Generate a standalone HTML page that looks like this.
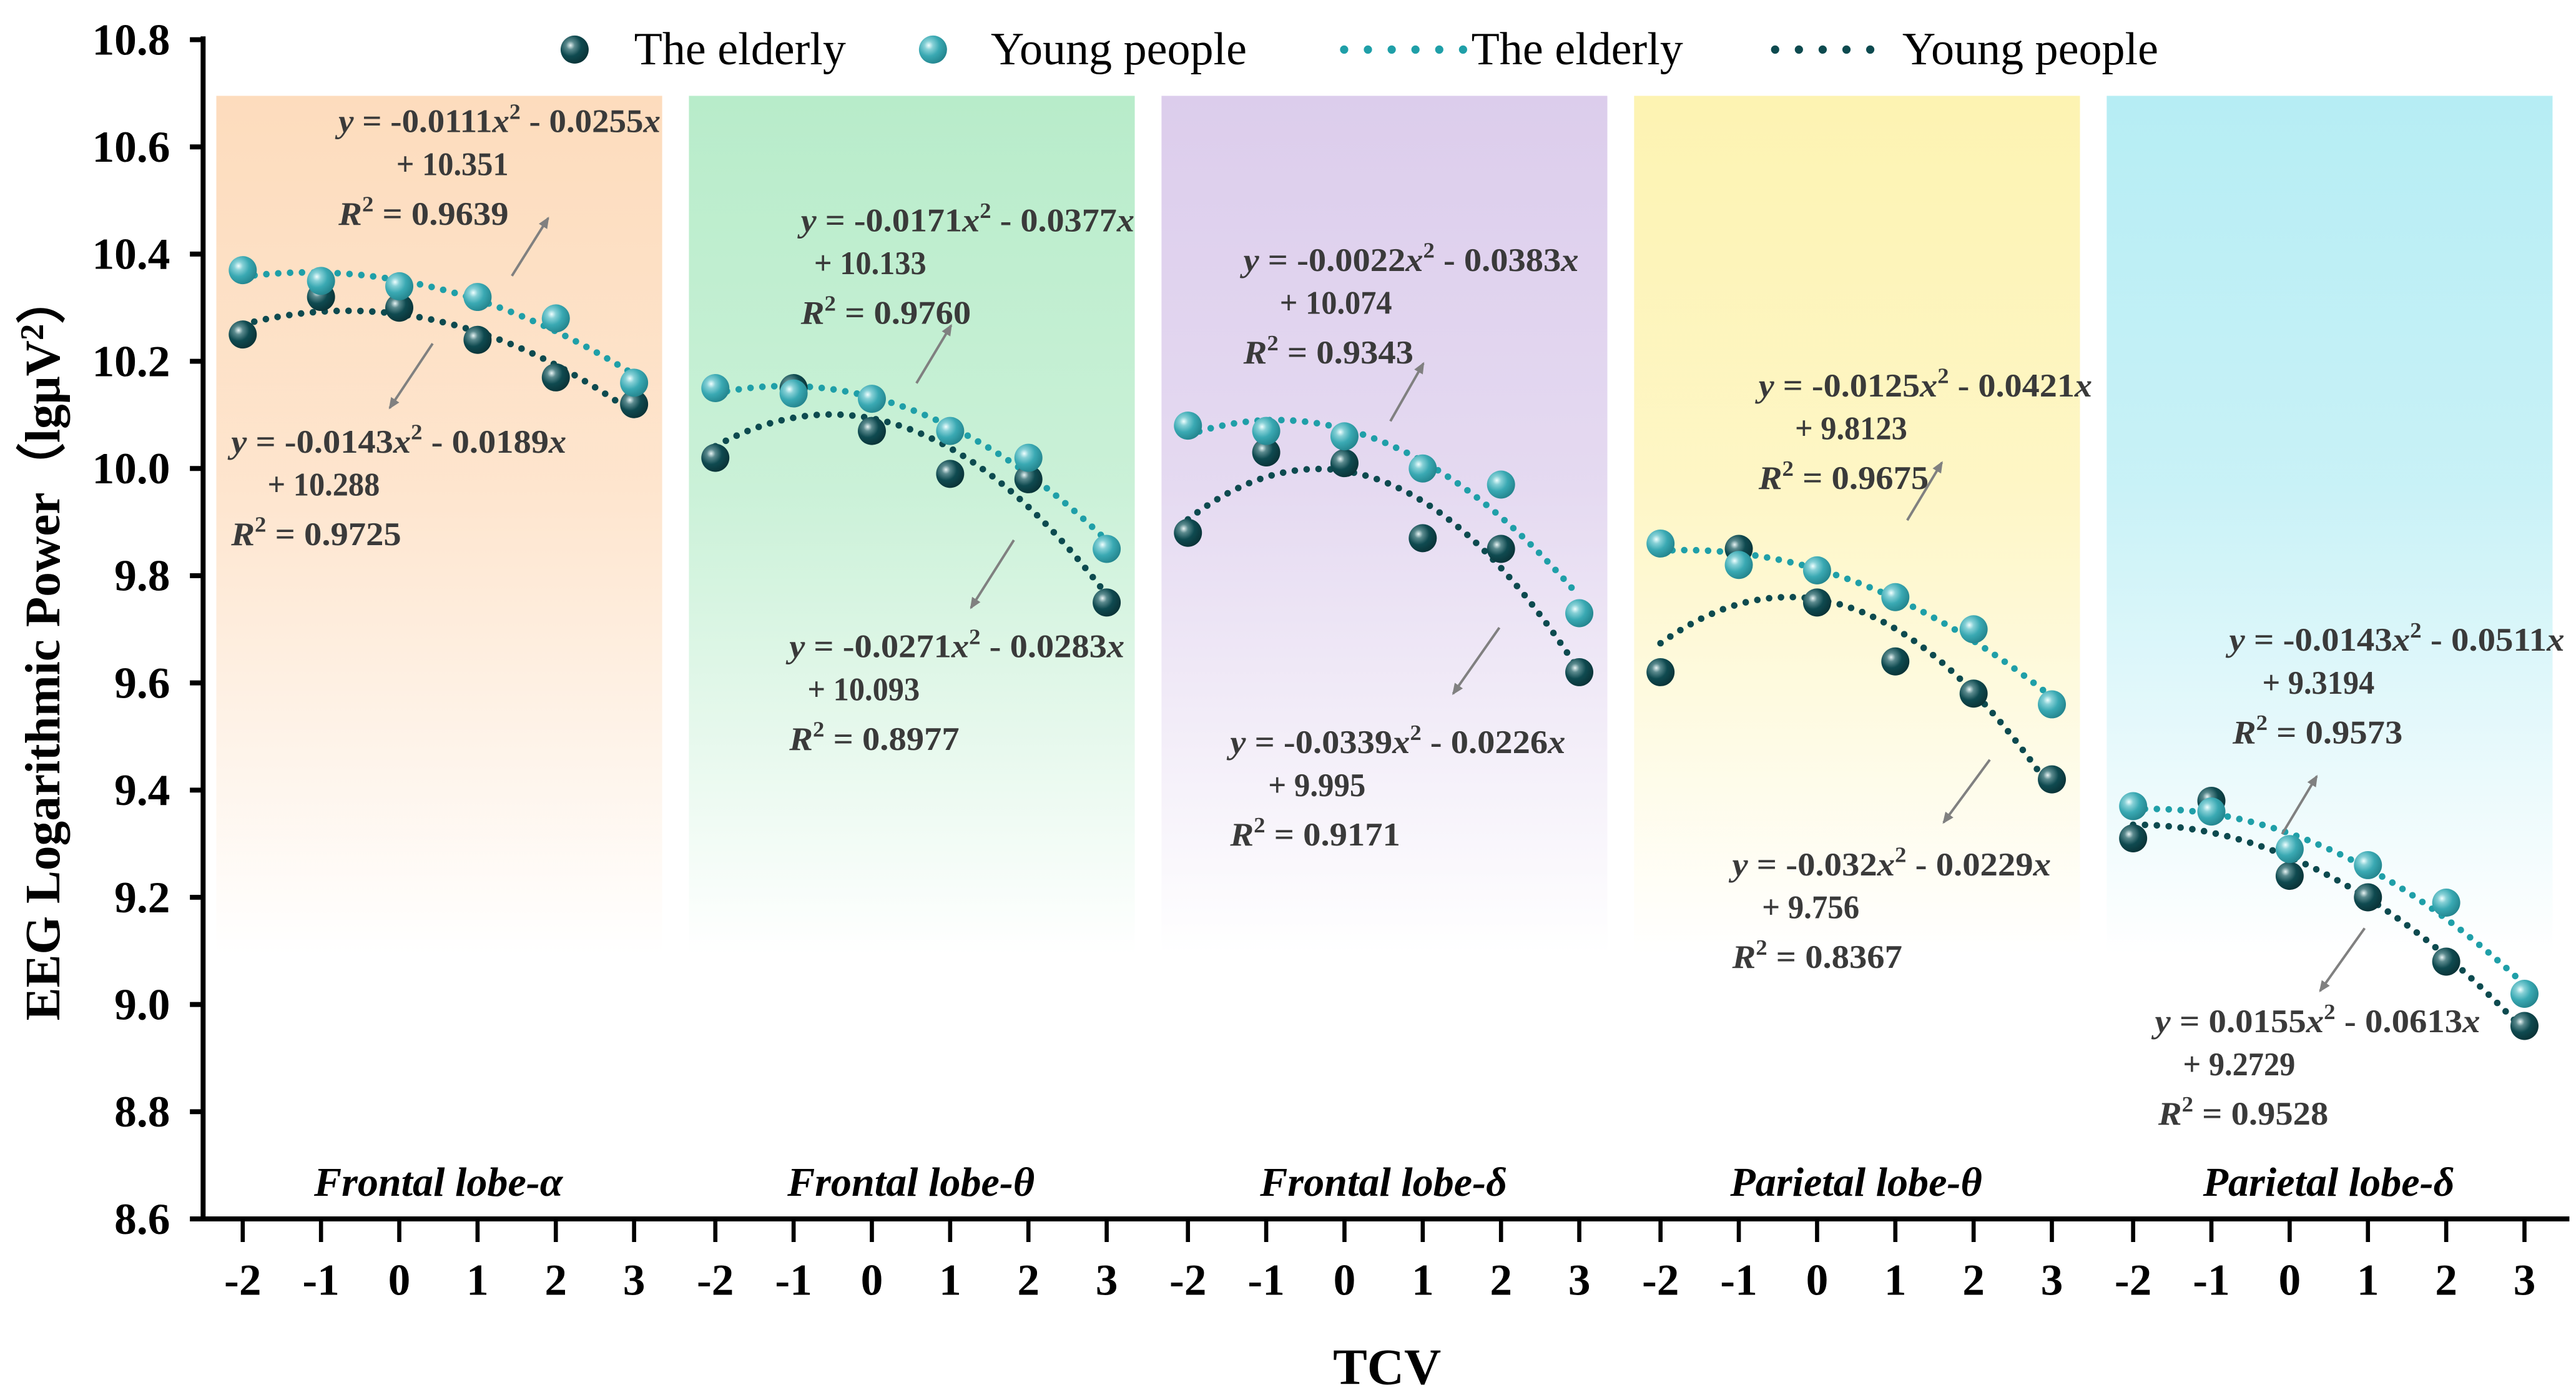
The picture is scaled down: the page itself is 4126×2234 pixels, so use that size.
<!DOCTYPE html>
<html><head><meta charset="utf-8"><style>
html,body{margin:0;padding:0;background:#fff;}
svg{display:block;}
svg text, svg tspan{font-family:"Liberation Serif","Times New Roman",Times,serif;}
</style></head><body>
<svg id="chart" xmlns="http://www.w3.org/2000/svg" width="4126" height="2234" viewBox="0 0 1560 844.6" font-family="'Liberation Serif', 'Times New Roman', serif">
<defs>
<radialGradient id="ballDark" cx="0.35" cy="0.35" r="0.7"><stop offset="0" stop-color="#e8f4f4"/><stop offset="0.22" stop-color="#5b8a8e"/><stop offset="0.55" stop-color="#0f4a50"/><stop offset="1" stop-color="#0a3236"/></radialGradient>
<radialGradient id="ballLight" cx="0.35" cy="0.35" r="0.7"><stop offset="0" stop-color="#f0ffff"/><stop offset="0.22" stop-color="#86d0d6"/><stop offset="0.55" stop-color="#3aa9b3"/><stop offset="1" stop-color="#23848d"/></radialGradient>
<marker id="arr" markerWidth="8" markerHeight="8" refX="6" refY="3" orient="auto" markerUnits="userSpaceOnUse"><path d="M0,0 L7,3 L0,6 z" fill="#808080"/></marker>
</defs>
<g id="bgs"></g>
<g id="axes"></g>
<g id="marks"></g>
<g id="annot"></g>
</svg>
<script>
const NS="http://www.w3.org/2000/svg";
const FF="'Liberation Serif', 'Times New Roman', serif";
const panelNames=["Frontal lobe-α","Frontal lobe-θ","Frontal lobe-δ","Parietal lobe-θ","Parietal lobe-δ"];
const tcv=[-2,-1,0,1,2,3];
const elderly=[
 [10.25,10.32,10.30,10.24,10.17,10.12],
 [10.02,10.15,10.07,9.99,9.98,9.75],
 [9.88,10.03,10.01,9.87,9.85,9.62],
 [9.62,9.85,9.75,9.64,9.58,9.42],
 [9.31,9.38,9.24,9.20,9.08,8.96]];
const young=[
 [10.37,10.35,10.34,10.32,10.28,10.16],
 [10.15,10.14,10.13,10.07,10.02,9.85],
 [10.08,10.07,10.06,10.00,9.97,9.73],
 [9.86,9.82,9.81,9.76,9.70,9.56],
 [9.37,9.36,9.29,9.26,9.19,9.02]];
const yTicks=[8.6,8.8,9.0,9.2,9.4,9.6,9.8,10.0,10.2,10.4,10.6,10.8];
const bgColors=["#fddcbd","#b8ecca","#dccdec","#fdf3b2","#b6edf4"];

const svg=document.getElementById('chart');
const Y0=738,Y1=24,YMIN=8.6,YMAX=10.8;
function yS(v){return Y0+(v-YMIN)/(YMAX-YMIN)*(Y1-Y0);}
const PX0=147,PSTEP=286.2,XSTEP=47.4;
function xS(p,t){return PX0+p*PSTEP+(t+2)*XSTEP;}
function el(tag,attrs,parent,txt){const e=document.createElementNS(NS,tag);for(const k in attrs)e.setAttribute(k,attrs[k]);if(tag==='text')e.setAttribute('font-family',FF);if(txt!==undefined)e.textContent=txt;(parent||svg).appendChild(e);return e;}
const gB=document.getElementById('bgs'),gA=document.getElementById('axes'),gM=document.getElementById('marks'),gN=document.getElementById('annot');
const defs=svg.querySelector('defs');

bgColors.forEach((c,i)=>{
 const lg=el('linearGradient',{id:'bg'+i,x1:0,y1:0,x2:0,y2:1},defs);
 el('stop',{offset:0,'stop-color':c},lg);
 el('stop',{offset:0.45,'stop-color':c,'stop-opacity':0.75},lg);
 el('stop',{offset:1,'stop-color':c,'stop-opacity':0},lg);
 const r=el('rect',{x:xS(i,-2)-16,y:58,width:270,height:520,fill:'url(#bg'+i+')'},gB);
 
 
});

const ya=el('line',{x1:123,y1:Y1-2,x2:123,y2:Y0+1.5,stroke:'#000','stroke-width':3},gA);

const xa=el('line',{x1:121.5,y1:Y0,x2:1556,y2:Y0,stroke:'#000','stroke-width':3},gA);

yTicks.forEach(v=>{
 el('line',{x1:115,y1:yS(v),x2:123,y2:yS(v),stroke:'#000','stroke-width':3},gA);
 const t=el('text',{x:103,y:yS(v)+9,'text-anchor':'end','font-size':27,'font-weight':'bold'},gA,v.toFixed(1));
 
});
for(let p=0;p<5;p++){
 tcv.forEach(tv=>{
  el('line',{x1:xS(p,tv),y1:Y0,x2:xS(p,tv),y2:Y0+14,stroke:'#000','stroke-width':2.5},gA);
  const t=el('text',{x:xS(p,tv),y:784,'text-anchor':'middle','font-size':27,'font-weight':'bold'},gA,String(tv));
  
 });
 const pl=el('text',{x:xS(p,0.5),y:724,'text-anchor':'middle','font-size':25,'font-weight':'bold','font-style':'italic'},gA,panelNames[p]);
 
}
const xt=el('text',{x:840,y:838,'text-anchor':'middle','font-size':31,'font-weight':'bold'},gA,'TCV');

const yt=el('text',{x:0,y:0,'text-anchor':'middle','font-size':30,'font-weight':'bold',transform:'translate(36,392) rotate(-90)'},gA);

yt.innerHTML='EEG Logarithmic Power（lgμV<tspan dy="-10" font-size="20">2</tspan><tspan dy="10">）</tspan>';

function fit(xs,ys){
 let S=[0,0,0,0,0],T=[0,0,0];
 xs.forEach((x,i)=>{let p=1;for(let k=0;k<5;k++){S[k]+=p;if(k<3)T[k]+=p*ys[i];p*=x;}});
 const A=[[S[0],S[1],S[2],T[0]],[S[1],S[2],S[3],T[1]],[S[2],S[3],S[4],T[2]]];
 for(let i=0;i<3;i++){for(let j=i+1;j<3;j++){const f=A[j][i]/A[i][i];for(let k=i;k<4;k++)A[j][k]-=f*A[i][k];}}
 const c=[0,0,0];for(let i=2;i>=0;i--){let s=A[i][3];for(let k=i+1;k<3;k++)s-=A[i][k]*c[k];c[i]=s/A[i][i];}
 return c;
}
function trend(p,data,color,name){
 const c=fit(tcv,data);let d='';
 for(let i=0;i<=50;i++){const t=-2+5*i/50;const v=c[0]+c[1]*t+c[2]*t*t;d+=(i?'L':'M')+xS(p,t).toFixed(2)+','+yS(v).toFixed(2);}
 const pa=el('path',{d:d,fill:'none',stroke:color,'stroke-width':4,'stroke-linecap':'round','stroke-dasharray':'0 7.2'},gM);
 
}
function balls(p,data,grad,name){
 data.forEach((v,i)=>{
  const b=el('circle',{cx:xS(p,tcv[i]),cy:yS(v),r:8.5,fill:'url(#'+grad+')'},gM);
  
 });
}
for(let p=0;p<5;p++){
 trend(p,elderly[p],'#0d4a4f','trendline-elderly');
 trend(p,young[p],'#1f9fa8','trendline-young');
}
for(let p=0;p<5;p++){
 balls(p,elderly[p],'ballDark','point-elderly');
 balls(p,young[p],'ballLight','point-young');
}

const notes=[
 [205,80,'-0.0111','0.0255',240,'10.351',205,'0.9639',[310,167,332,132],195],
 [140,274,'-0.0143','0.0189',162,'10.288',140,'0.9725',[262,208,236,247],203],
 [485,140,'-0.0171','0.0377',493,'10.133',485,'0.9760',[555,232,576,197],202],
 [478,398,'-0.0271','0.0283',489,'10.093',478,'0.8977',[614,327,588,368],203],
 [753,164,'-0.0022','0.0383',775,'10.074',753,'0.9343',[842,255,862,220],203],
 [745,456,'-0.0339','0.0226',768,'9.995',745,'0.9171',[908,380,880,420],203],
 [1065,240,'-0.0125','0.0421',1087,'9.8123',1065,'0.9675',[1155,315,1176,280],202],
 [1049,530,'-0.032','0.0229',1067,'9.756',1049,'0.8367',[1205,460,1177,498],193],
 [1350,394,'-0.0143','0.0511',1370,'9.3194',1352,'0.9573',[1382,505,1403,470],203],
 [1305,625,'0.0155','0.0613',1322,'9.2729',1307,'0.9528',[1432,562,1405,600],197]
];
notes.forEach(n=>{
 const g=el('g',{'font-size':20,'font-weight':'bold',fill:'#3a3a3a'},gN);
 
 const t1=el('text',{x:n[0],y:n[1],textLength:n[9],lengthAdjust:'spacingAndGlyphs'},g);
 t1.innerHTML='<tspan font-style="italic">y</tspan> = '+n[2]+'<tspan font-style="italic">x</tspan><tspan dy="-8" font-size="13">2</tspan><tspan dy="8"> - '+n[3]+'</tspan><tspan font-style="italic">x</tspan>';
 el('text',{x:n[4],y:n[1]+26,textLength:(n[5].length*9+14),lengthAdjust:'spacingAndGlyphs'},g,'+ '+n[5]);
 const t3=el('text',{x:n[6],y:n[1]+56,textLength:103,lengthAdjust:'spacingAndGlyphs'},g);
 t3.innerHTML='<tspan font-style="italic">R</tspan><tspan dy="-8" font-size="13">2</tspan><tspan dy="8"> = '+n[7]+'</tspan>';
 const a=n[8];
 const ar=el('line',{x1:a[0],y1:a[1],x2:a[2],y2:a[3],stroke:'#808080','stroke-width':1.5,'marker-end':'url(#arr)'},gN);
 
});

const lg=el('g',{},gN);

const l1=el('circle',{cx:348,cy:30,r:8.5,fill:'url(#ballDark)'},lg);

const lt1=el('text',{x:384,y:39,'font-size':28},lg,'The elderly');

const l2=el('circle',{cx:565,cy:30,r:8.5,fill:'url(#ballLight)'},lg);

const lt2=el('text',{x:600,y:39,'font-size':28},lg,'Young people');

const l3=el('line',{x1:814,y1:30,x2:886,y2:30,stroke:'#1f9fa8','stroke-width':5,'stroke-linecap':'round','stroke-dasharray':'0 14.4'},lg);

const lt3=el('text',{x:891,y:39,'font-size':28},lg,'The elderly');

const l4=el('line',{x1:1075,y1:30,x2:1147,y2:30,stroke:'#0d4a4f','stroke-width':5,'stroke-linecap':'round','stroke-dasharray':'0 14.4'},lg);

const lt4=el('text',{x:1152,y:39,'font-size':28},lg,'Young people');

</script>
</body></html>
